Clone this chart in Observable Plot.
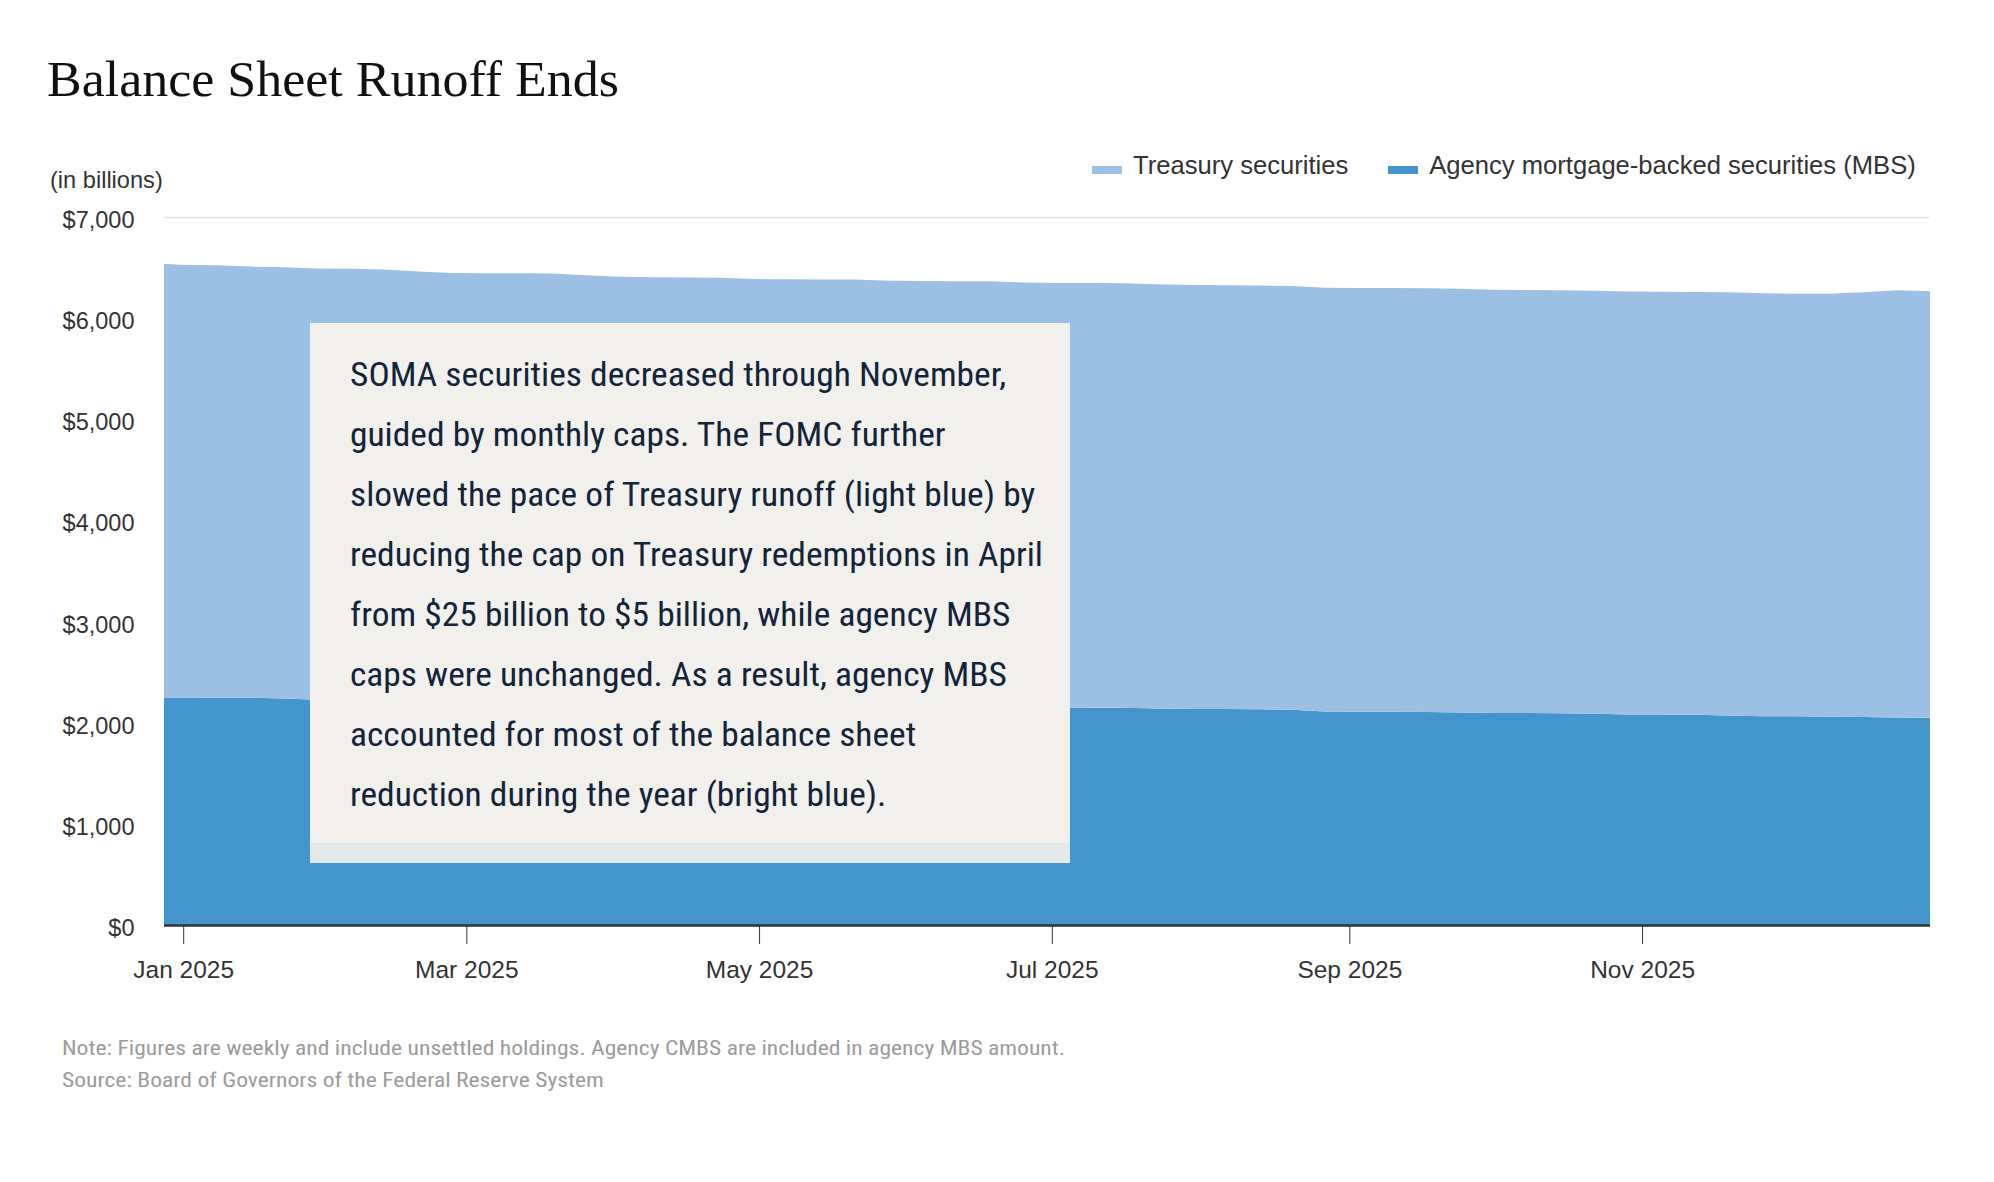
<!DOCTYPE html>
<html>
<head>
<meta charset="utf-8">
<script src="https://cdn.jsdelivr.net/npm/d3@7"></script>
<script src="https://cdn.jsdelivr.net/npm/@observablehq/plot@0.6"></script>
<style>
  html, body { margin: 0; padding: 0; background: #fff; }
  #root { position: relative; width: 1994px; height: 1182px; overflow: hidden; background: #fff; }
  .abs { position: absolute; }
  #title { left: 47px; top: 54px; font-family: "Liberation Serif", "DejaVu Serif", serif; font-size: 50px; line-height: 50px; color: #111; white-space: nowrap; display: inline-block; transform-origin: 0 0; }
  #unit { left: 50px; top: 168.5px; font-family: "Liberation Sans", Arial, sans-serif; font-size: 23.6px; line-height: 23.6px; color: #333; white-space: nowrap; }
  #legend { left: 1092px; top: 152.5px; font-family: "Liberation Sans", Arial, sans-serif; font-size: 25.6px; line-height: 25.6px; color: #333; white-space: nowrap; }
  #legend .item { display: inline-block; margin-right: 40px; }
  #legend .sw { display: inline-block; width: 30px; height: 8px; margin-right: 11px; vertical-align: baseline; }
  #chart { left: 0; top: 120px; }
  #box { left: 310px; top: 323px; width: 760px; height: 540px; background: linear-gradient(#f2f0ec 0px, #f2f0ec 520px, #e3e8e9 520px, #e3e8e9 540px); }
  #boxtext { position: absolute; left: 39.5px; top: 21.4px; font-family: "Roboto Condensed", Roboto, "Liberation Sans", sans-serif; font-size: 34px; line-height: 60px; color: #13243a; white-space: nowrap; display: inline-block; transform-origin: 0 0; }
  #notes { left: 62px; top: 1032px; font-family: "Roboto Condensed", Roboto, "Liberation Sans", sans-serif; font-size: 20.5px; line-height: 32px; color: #9b9b9b; white-space: nowrap; display: inline-block; transform-origin: 0 0; }
</style>
</head>
<body>
<div id="root">
  <div id="title" class="abs"></div>
  <div id="unit" class="abs">(in billions)</div>
  <div id="legend" class="abs"></div>
  <div id="chart" class="abs"></div>
  <div id="box" class="abs"><div id="boxtext"></div></div>
  <div id="notes" class="abs"></div>
</div>
<script>
// Weekly (Wednesday) dates
const dates = [
  "2024-12-25",
  "2025-01-01","2025-01-08","2025-01-15","2025-01-22","2025-01-29",
  "2025-02-05","2025-02-12","2025-02-19","2025-02-26",
  "2025-03-05","2025-03-12","2025-03-19","2025-03-26",
  "2025-04-02","2025-04-09","2025-04-16","2025-04-23","2025-04-30",
  "2025-05-07","2025-05-14","2025-05-21","2025-05-28",
  "2025-06-04","2025-06-11","2025-06-18","2025-06-25",
  "2025-07-02","2025-07-09","2025-07-16","2025-07-23","2025-07-30",
  "2025-08-06","2025-08-13","2025-08-20","2025-08-27",
  "2025-09-03","2025-09-10","2025-09-17","2025-09-24",
  "2025-10-01","2025-10-08","2025-10-15","2025-10-22","2025-10-29",
  "2025-11-05","2025-11-12","2025-11-19","2025-11-26",
  "2025-12-03","2025-12-10","2025-12-17","2025-12-24","2025-12-31"
];
// Treasury securities held (billions)
const treasury = [
  4295,
  4277,4276,4263,4263,4262,
  4261,4255,4235,4234,
  4234,4233,4232,4229,
  4214,4211,4209,4207,4206,
  4206,4205,4204,4205,
  4203,4203,4202,4201,
  4197,4198,4196,4196,4191,
  4189,4188,4190,4190,
  4189,4189,4189,4190,
  4183,4183,4183,4184,4182,
  4181,4181,4183,4180,
  4179,4181,4199,4225,4219
];
// Agency MBS held (billions)
const mbs = [
  2250,
  2249,2248,2247,2240,2228,
  2227,2226,2225,2212,
  2211,2210,2209,2196,
  2195,2194,2193,2192,2180,
  2179,2178,2177,2165,
  2164,2163,2162,2151,
  2150,2149,2148,2140,2136,
  2135,2134,2128,2110,
  2109,2108,2106,2100,
  2097,2096,2094,2088,2081,
  2080,2078,2072,2065,
  2063,2060,2056,2051,2048
];
const seriesNames = ["Treasury securities", "Agency mortgage-backed securities (MBS)"];
const seriesColors = ["#9bc0e4", "#4494cd"];
const yTicks = [0, 1000, 2000, 3000, 4000, 5000, 6000, 7000];
const xTicks = ["2025-01-01", "2025-03-01", "2025-05-01", "2025-07-01", "2025-09-01", "2025-11-01"];
const xDomain = ["2024-12-28", "2025-12-31"];

const titleText = "Balance Sheet Runoff Ends";
const annotationLines = [
  "SOMA securities decreased through November,",
  "guided by monthly caps. The FOMC further",
  "slowed the pace of Treasury runoff (light blue) by",
  "reducing the cap on Treasury redemptions in April",
  "from $25 billion to $5 billion, while agency MBS",
  "caps were unchanged. As a result, agency MBS",
  "accounted for most of the balance sheet",
  "reduction during the year (bright blue)."
];
const noteLines = [
  "Note: Figures are weekly and include unsettled holdings. Agency CMBS are included in agency MBS amount.",
  "Source: Board of Governors of the Federal Reserve System"
];

const data = dates.map((d, i) => ({date: new Date(d), treasury: treasury[i], mbs: mbs[i]}));

const chart = Plot.plot({
  width: 1994,
  height: 880,
  marginTop: 97,
  marginBottom: 75,
  marginLeft: 164,
  marginRight: 64,
  x: {type: "utc", domain: xDomain.map(d => new Date(d))},
  y: {domain: [0, 7000]},
  style: {fontFamily: "'Liberation Sans', Arial, sans-serif", color: "#333", background: "transparent", overflow: "visible"},
  marks: [
    Plot.gridY(yTicks, {stroke: "#e2e2e2", strokeOpacity: 1, strokeWidth: 1.5}),
    Plot.areaY(data, {x: "date", y1: 0, y2: "mbs", fill: seriesColors[1], clip: true}),
    Plot.areaY(data, {x: "date", y1: "mbs", y2: d => d.mbs + d.treasury, fill: seriesColors[0], clip: true}),
    Plot.ruleY([0], {stroke: "#333", strokeWidth: 2.5}),
    Plot.axisY(yTicks, {label: null, tickSize: 0, tickPadding: 30, dy: 3, tickFormat: d => "$" + d3.format(",")(d), fontSize: 23.5, fill: "#333"}),
    Plot.axisX(xTicks.map(d => new Date(d)), {label: null, tickSize: 19, tickPadding: 16, tickFormat: d3.utcFormat("%b %Y"), fontSize: 24.5, stroke: "#333", fill: "#333"})
  ]
});
document.getElementById("chart").appendChild(chart);

document.getElementById("title").textContent = titleText;

const legend = document.getElementById("legend");
seriesNames.forEach((name, i) => {
  const item = document.createElement("span");
  item.className = "item";
  const sw = document.createElement("span");
  sw.className = "sw";
  sw.style.background = seriesColors[i];
  item.appendChild(sw);
  item.appendChild(document.createTextNode(name));
  legend.appendChild(item);
});

const boxtext = document.getElementById("boxtext");
annotationLines.forEach(l => { const d = document.createElement("div"); d.textContent = l; boxtext.appendChild(d); });
const notes = document.getElementById("notes");
noteLines.forEach(l => { const d = document.createElement("div"); d.textContent = l; notes.appendChild(d); });

// Adjust text widths to match the reference typefaces
function fit(el, target) {
  const w = el.getBoundingClientRect().width;
  if (w > 0) el.style.transform = `scaleX(${target / w})`;
}
fit(document.getElementById("title"), 572);
fit(boxtext, 693);
fit(notes, 1003);
</script>
</body>
</html>
